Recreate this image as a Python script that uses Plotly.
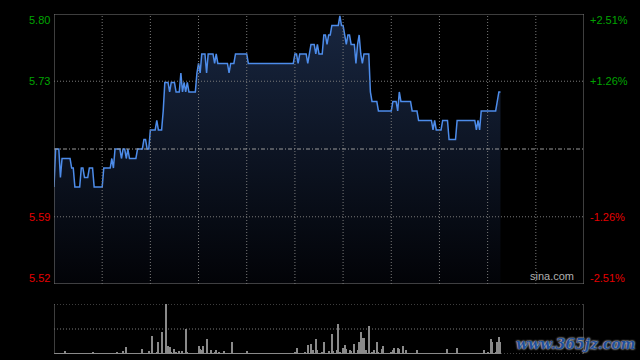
import plotly.graph_objects as go

# ---------------- data ----------------
prev_close = 5.66
session_minutes = 330  # HK session: 9:30-12:00, 13:00-16:00

# intraday price, run-length: level and number of consecutive minutes
price_levels = [5.62, 5.66, 5.63, 5.65, 5.64, 5.62, 5.64, 5.63, 5.64, 5.62,
                5.64, 5.65, 5.64, 5.66, 5.65, 5.66, 5.65, 5.66, 5.65, 5.66,
                5.67, 5.66, 5.68, 5.69, 5.68, 5.70, 5.73, 5.72, 5.73, 5.72,
                5.74, 5.72, 5.73, 5.72, 5.73, 5.72, 5.74, 5.75, 5.74, 5.76,
                5.74, 5.76, 5.75, 5.76, 5.75, 5.74, 5.75, 5.76, 5.75, 5.76,
                5.75, 5.76, 5.75, 5.76, 5.77, 5.76, 5.77, 5.76, 5.78, 5.77,
                5.78, 5.79, 5.80, 5.79, 5.78, 5.77, 5.78, 5.77, 5.75, 5.77,
                5.78, 5.76, 5.75, 5.76, 5.72, 5.71, 5.70, 5.71, 5.70, 5.72,
                5.71, 5.70, 5.69, 5.68, 5.69, 5.68, 5.69, 5.67, 5.69, 5.68,
                5.69, 5.68, 5.70, 5.71, 5.72]
price_runs = [1, 3, 1, 6, 2, 4, 2, 3, 3, 6,
              5, 1, 1, 4, 1, 2, 1, 1, 5, 4,
              2, 2, 4, 1, 3, 1, 3, 1, 3, 3,
              1, 1, 1, 1, 1, 5, 1, 1, 1, 3,
              1, 4, 1, 1, 7, 1, 3, 8, 29, 2,
              1, 5, 1, 1, 3, 1, 1, 3, 2, 1,
              2, 5, 1, 2, 1, 1, 2, 3, 1, 1,
              1, 1, 1, 4, 1, 4, 9, 3, 1, 1,
              7, 4, 9, 1, 1, 4, 4, 5, 12, 1,
              1, 1, 10, 1, 2]

# volume (arbitrary units; pane height = 50), sparse notable bars
vol_minutes = [7, 16, 24, 39, 43, 45, 55, 59, 61, 64, 65, 67, 70, 71, 72, 73,
               75, 76, 78, 80, 82, 83, 87, 90, 91, 92, 93, 95, 98, 100, 101,
               103, 106, 111, 113, 120, 130, 139, 150, 151, 156, 158, 160,
               161, 163, 164, 167, 168, 171, 173, 174, 176, 177, 178, 180,
               181, 182, 184, 185, 187, 189, 190, 191, 192, 193, 194, 196,
               198, 199, 201, 202, 204, 205, 210, 211, 212, 214, 215, 217,
               219, 226, 245, 251, 268, 270, 272, 273, 275, 276, 277, 278]
vol_values = [3.3, 1.0, 2.3, 2.3, 3.3, 6.7, 5.3, 3.3, 18.0, 2.3, 11.7, 21.7,
              60.0, 8.3, 6.7, 1.7, 5.3, 2.3, 3.3, 3.3, 25.0, 2.3, 1.0, 8.3,
              5.3, 4.3, 7.7, 15.0, 4.3, 2.3, 4.3, 1.7, 3.3, 12.3, 1.0, 3.3,
              1.0, 1.0, 2.3, 6.3, 2.3, 9.3, 10.3, 4.3, 15.0, 4.3, 2.3, 12.3,
              3.3, 20.3, 3.3, 4.3, 30.3, 2.3, 6.3, 9.3, 5.3, 4.3, 3.3, 10.3,
              4.3, 11.7, 21.7, 16.3, 16.3, 4.3, 27.7, 2.3, 4.3, 11.7, 2.3,
              5.3, 8.3, 2.3, 4.3, 6.3, 6.3, 5.3, 8.3, 4.3, 4.3, 5.3, 6.3,
              4.3, 1.7, 15.0, 11.7, 2.3, 12.3, 17.3, 11.7]
vol_small = 0.8

pct_ticks = [0.0251, 0.0126, -0.0126, -0.0251]
left_labels = ["5.80", "5.73", "5.59", "5.52"]
right_labels = ["+2.51%", "+1.26%", "-1.26%", "-2.51%"]
grid_minutes = [30, 60, 90, 120, 150, 180, 210, 240, 270, 300]

# ---------------- build series ----------------
prices = []
for lv, n in zip(price_levels, price_runs):
    prices += [lv] * n
minutes = list(range(len(prices)))
volumes = [vol_small] * len(prices)
for m, v in zip(vol_minutes, vol_values):
    volumes[m] = v

y_top = prev_close * (1 + pct_ticks[0])
y_bot = prev_close * (1 + pct_ticks[-1])

GREEN = "#00a400"
RED = "#e60000"
GRID = "#7a7a7a"
BORDER = "#7c7c7c"

fig = go.Figure()
fig.add_trace(go.Scatter(x=minutes, y=[y_bot] * len(minutes), mode="lines",
                         line=dict(width=0, color="rgba(0,0,0,0)"),
                         hoverinfo="skip", showlegend=False,
                         xaxis="x", yaxis="y"))
fig.add_trace(go.Scatter(x=minutes, y=prices, mode="lines",
                         line=dict(color="#4d8cea", width=1.5),
                         fill="tonexty",
                         fillgradient=dict(type="vertical", start=y_bot, stop=max(prices),
                                           colorscale=[[0, "#020307"], [1, "#182640"]]),
                         showlegend=False, xaxis="x", yaxis="y"))
fig.add_trace(go.Bar(x=minutes, y=volumes, marker=dict(color="#8a8a8a", line=dict(width=0)),
                     width=0.62, showlegend=False, xaxis="x2", yaxis="y2"))

shapes = []
# price pane grid
for gm in grid_minutes:
    shapes.append(dict(type="line", xref="x", yref="y", x0=gm, x1=gm, y0=y_bot, y1=y_top,
                       line=dict(color=GRID, width=1, dash="1px,2px"), layer="above"))
for p in pct_ticks[1:3]:
    yv = prev_close * (1 + p)
    shapes.append(dict(type="line", xref="x", yref="y", x0=0, x1=session_minutes, y0=yv, y1=yv,
                       line=dict(color=GRID, width=1, dash="1px,2px"), layer="above"))
shapes.append(dict(type="line", xref="x", yref="y", x0=0, x1=session_minutes,
                   y0=prev_close, y1=prev_close,
                   line=dict(color="#9a9a9a", width=1, dash="4px,2px,1px,2px"), layer="above"))
shapes.append(dict(type="rect", xref="x", yref="y", x0=0, x1=session_minutes, y0=y_bot, y1=y_top,
                   line=dict(color=BORDER, width=1), layer="above"))
# volume pane
for yv, d in [(50, "1px,2px"), (25, "1px,2px"), (0, "1px,2px")]:
    shapes.append(dict(type="line", xref="x2", yref="y2", x0=0, x1=session_minutes, y0=yv, y1=yv,
                       line=dict(color=GRID, width=1, dash=d), layer="below"))
for xv in [0, session_minutes]:
    shapes.append(dict(type="line", xref="x2", yref="y2", x0=xv, x1=xv, y0=0, y1=50,
                       line=dict(color=BORDER, width=1), layer="above"))

annotations = []
shifts = [-6, 0, 0, 6]
for p, ll, rl, sh in zip(pct_ticks, left_labels, right_labels, shifts):
    yv = prev_close * (1 + p)
    col = GREEN if p > 0 else RED
    annotations.append(dict(xref="paper", yref="y", x=0, y=yv, text=ll, showarrow=False,
                            xanchor="right", yanchor="middle", xshift=-2, yshift=sh,
                            font=dict(family="Liberation Sans, Arial", size=11, color=col)))
    annotations.append(dict(xref="paper", yref="y", x=1, y=yv, text=rl, showarrow=False,
                            xanchor="left", yanchor="middle", xshift=4, yshift=sh,
                            font=dict(family="Liberation Sans, Arial", size=11, color=col)))
annotations.append(dict(xref="x", yref="y", x=session_minutes, y=y_bot, text="sina.com",
                        showarrow=False, xanchor="right", yanchor="bottom", xshift=-8, yshift=0,
                        font=dict(family="Liberation Sans, Arial", size=11, color="#b0b0b0")))
annotations.append(dict(xref="paper", yref="paper", x=(575 - 54) / 530, y=0.028,
                        text="<b><i>www.365jz.com</i></b>", showarrow=False,
                        xanchor="center", yanchor="middle",
                        font=dict(family="DejaVu Serif", size=14, color="#1f4f9a",
                                  shadow="0px 0px 2px #d0d0d0, 0px 0px 2px #d0d0d0")))

fig.update_layout(
    width=640, height=360,
    margin=dict(l=54, r=56, t=14, b=6),
    paper_bgcolor="#000000", plot_bgcolor="#000000",
    xaxis=dict(domain=[0, 1], range=[0, session_minutes], showgrid=False, zeroline=False,
               showticklabels=False, ticks="", anchor="y"),
    yaxis=dict(domain=[70 / 340, 1], range=[y_bot, y_top], showgrid=False, zeroline=False,
               showticklabels=False, ticks="", anchor="x"),
    xaxis2=dict(domain=[0, 1], range=[0, session_minutes], showgrid=False, zeroline=False,
                showticklabels=False, ticks="", anchor="y2", matches="x"),
    yaxis2=dict(domain=[0, 50 / 340], range=[0, 50], showgrid=False, zeroline=False,
                showticklabels=False, ticks="", anchor="x2"),
    shapes=shapes, annotations=annotations, bargap=0,
)

fig.write_html("out.html")
